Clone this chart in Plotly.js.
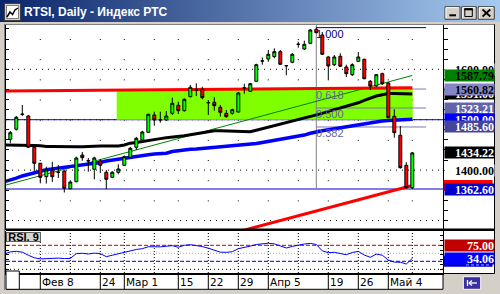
<!DOCTYPE html>
<html><head><meta charset="utf-8">
<script src="https://cdn.plot.ly/plotly-3.0.1.min.js"></script>
<style>
html,body{margin:0;padding:0;background:#d4d0c8;overflow:hidden;}
#chart{width:500px;height:294px;background:linear-gradient(to right,#0a246a,#a6caf0) 0 0/100% 22px no-repeat,#d4d0c8;}
</style></head><body><div id="chart"></div>
<script>
// ---------------- DATA ----------------
const dates = ['2010-01-29','2010-02-01','2010-02-02','2010-02-03','2010-02-04','2010-02-05','2010-02-08','2010-02-09','2010-02-10','2010-02-11','2010-02-12','2010-02-15','2010-02-16','2010-02-17','2010-02-18','2010-02-19','2010-02-24','2010-02-25','2010-02-26','2010-02-27','2010-03-01','2010-03-02','2010-03-03','2010-03-04','2010-03-05','2010-03-09','2010-03-10','2010-03-11','2010-03-12','2010-03-15','2010-03-16','2010-03-17','2010-03-18','2010-03-19','2010-03-22','2010-03-23','2010-03-24','2010-03-25','2010-03-26','2010-03-29','2010-03-30','2010-03-31','2010-04-01','2010-04-02','2010-04-05','2010-04-06','2010-04-07','2010-04-08','2010-04-09','2010-04-12','2010-04-13','2010-04-14','2010-04-15','2010-04-16','2010-04-19','2010-04-20','2010-04-21','2010-04-22','2010-04-23','2010-04-26','2010-04-27','2010-04-28','2010-04-29','2010-04-30','2010-05-04','2010-05-05','2010-05-06','2010-05-07','2010-05-11'];
const candleDates = dates.slice(1);
const openP  = [1461.2,1481.0,1510.5,1507.4,1445.3,1413.6,1387.0,1398.9,1395.5,1398.3,1363.2,1377.1,1430.0,1418.1,1401.7,1418.1,1395.7,1385.8,1395.7,1409.6,1425.5,1445.3,1459.8,1475.0,1509.4,1499.4,1499.4,1512.7,1528.6,1517.9,1545.6,1558.6,1560.3,1533.5,1534.5,1524.6,1512.7,1512.7,1515.3,1562.7,1556.4,1576.2,1616.2,1620.4,1625.0,1634.9,1607.3,1613.9,1649.3,1640.2,1651.5,1679.3,1668.0,1624.4,1609.1,1625.8,1604.5,1589.3,1615.8,1619.8,1576.2,1566.9,1591.3,1572.8,1506.8,1469.1,1409.6,1365.2];
const highP  = [1477.6,1507.4,1529.2,1509.0,1446.0,1414.5,1406.8,1416.7,1410.2,1400.0,1378.0,1426.7,1436.0,1424.0,1426.7,1422.0,1400.3,1398.0,1411.6,1429.0,1446.0,1466.0,1478.0,1512.0,1515.9,1515.9,1517.3,1543.7,1535.7,1542.0,1568.8,1572.2,1565.5,1539.1,1544.5,1529.2,1519.3,1522.0,1555.0,1571.4,1573.0,1611.0,1623.4,1638.3,1641.6,1638.3,1608.5,1632.0,1654.7,1656.7,1680.0,1682.6,1674.0,1626.0,1628.3,1631.7,1609.1,1611.9,1634.3,1621.0,1578.8,1590.7,1593.3,1574.0,1520.7,1487.5,1416.0,1436.0];
const lowP   = [1453.8,1478.6,1507.4,1444.0,1398.3,1373.9,1373.5,1376.5,1384.4,1355.7,1362.0,1376.0,1418.7,1396.9,1381.8,1394.3,1362.6,1384.0,1391.8,1408.0,1424.0,1440.0,1458.0,1474.0,1488.1,1494.1,1497.5,1509.4,1511.3,1516.0,1544.4,1547.0,1540.5,1509.4,1517.9,1506.0,1504.0,1510.0,1514.0,1551.6,1555.0,1575.0,1609.1,1615.0,1621.8,1608.5,1588.1,1612.0,1642.8,1638.3,1650.0,1671.4,1628.4,1579.4,1606.5,1604.5,1584.7,1586.7,1614.5,1580.2,1558.9,1564.9,1568.8,1503.4,1464.3,1402.9,1363.6,1362.6];
const closeP = [1474.3,1504.8,1511.0,1445.3,1413.6,1385.8,1400.3,1387.0,1396.0,1364.0,1376.5,1424.1,1424.7,1418.6,1424.1,1409.6,1381.8,1395.7,1402.3,1426.7,1443.3,1463.1,1475.6,1510.7,1499.4,1499.8,1507.4,1532.6,1517.9,1540.5,1564.3,1559.0,1543.7,1533.9,1527.8,1514.7,1506.0,1519.9,1553.0,1563.1,1571.4,1609.1,1616.6,1629.7,1634.9,1609.9,1607.0,1629.7,1649.7,1649.5,1677.9,1672.6,1629.7,1606.5,1624.4,1606.0,1591.3,1609.1,1624.4,1581.3,1566.9,1589.3,1571.4,1504.0,1474.3,1404.9,1365.2,1434.22];
const blackMA = [1450,1450,1450,1450,1449.5,1449,1448.5,1447,1447,1446.5,1446.5,1446.5,1446.5,1446.5,1446.5,1447.5,1448,1448,1448,1448,1450,1453.5,1455,1457,1459.8,1461,1462.5,1464,1465,1466,1468,1470,1471.8,1473,1475.5,1478,1478,1477.5,1477,1476.5,1476.3,1476.2,1479,1482,1485,1488,1491.5,1494.5,1497.5,1500.5,1503.5,1506.5,1509.4,1512.5,1516.5,1519.8,1523,1526.5,1530,1533.5,1538.5,1543.5,1547,1549.5,1552,1552,1551.5,1551.2,1551.0];
const blueMA  = [1377,1380,1384,1388.5,1392,1395.5,1399,1400.8,1402.5,1404,1405.6,1407,1408.5,1410,1411.5,1413,1415,1418,1420,1421.5,1423,1425,1427,1429,1430.5,1432,1433,1433.5,1437,1439,1440.5,1441.5,1442,1443,1445,1446.5,1447,1447.5,1448,1449,1450,1451,1453,1455,1457,1458.8,1460.5,1461.8,1464,1466.5,1469.5,1473,1476,1478,1480,1482,1484.5,1486.5,1488.5,1490.5,1492.5,1494.5,1496,1497.5,1498.5,1499.5,1500,1500.5,1500.8];
const rsi9    = [48,54.5,56,53.5,44,36,32.5,33,35,35,33.5,34,49,50,47.8,50.5,49,39.5,44,48.5,54.5,59.5,62,64.5,70.5,70.5,70,72,73.8,68.8,75,77,75,71,66,60,53.5,53,55,64.4,67.5,72.5,77.5,79,81.5,79.5,73,66.6,71.5,76,79,81,77.5,57.5,52,53,50,45.6,52.5,56,44.5,37.5,47.5,44,29,22.5,22,16.6,34.06];
const trendDates  = ['2010-01-29','2010-05-11'];
const greenTrend  = [1369.6, 1587.79];
const redTopLine  = [1556.8, 1563.5];
const redChannel  = [1155.0, 1369.4];
const supportLevels = [1500.00, 1362.60];
const zoneDates = ['2010-02-27','2010-05-11'];
const zoneRange = [1500, 1561];
const fibDate = '2010-04-15';
const fibLow = 1363.86;
const fibLevels = [1682.59, 1560.82, 1523.21, 1485.60];
const fibNames = ['1.000','0.618','0.500','0.382'];
const rsiLevels = [75, 25];
const priceLabelValues = [1600.00, 1587.79, 1551.00, 1560.82, 1523.21, 1500.00, 1485.60, 1434.22, 1400.00, 1362.60];
const priceHiddenMarkers = [1369.40];   // red channel value box, covered by the 1362.60 box
const rsiLabelValues = [75.00, 34.06];
const rsiHiddenMarkers = [25.00];       // lower level box, covered by the 34.06 box
const tickDates  = ['2010-02-08','2010-02-24','2010-03-01','2010-03-15','2010-03-22','2010-03-29','2010-04-05','2010-04-19','2010-04-26','2010-05-04'];
const tickLabels = ['Фев 8','24','Мар 1','15','22','29','Апр 5','19','26','Май 4'];
const gridDates  = ['2010-02-08','2010-02-15','2010-02-24','2010-03-01','2010-03-09','2010-03-15','2010-03-22','2010-03-29','2010-04-05','2010-04-12','2010-04-19','2010-04-26','2010-05-04','2010-05-11'];
const majorGridLevels = [1300, 1400, 1500, 1600];
const minorGridTop = 1660, minorGridBottom = 1300, minorGridStep = 40;
const titleText = 'RTSI, Daily - Индекс РТС';
const paneLabel = 'RSI, 9';

// ---------------- STYLES / GEOMETRY ----------------
const priceLabelStyles = [
  {bg:'#ffffff', fg:'#000000'}, {bg:'#008000', fg:'#000000'}, {bg:'#000000', fg:'#ffffff'},
  {bg:'#8585c6', fg:'#000000'}, {bg:'#6464aa', fg:'#ffffff'}, {bg:'#0000ff', fg:'#ffffff'},
  {bg:'#44449a', fg:'#ffffff'}, {bg:'#000000', fg:'#ffffff'}, {bg:'#ffffff', fg:'#000000'},
  {bg:'#0000c8', fg:'#ffffff'}];
const priceHiddenColors = ['#ff0000'];
const rsiLabelStyles = [{bg:'#c00000', fg:'#ffffff'}, {bg:'#0000ff', fg:'#ffffff'}];
const rsiHiddenColors = ['#0000c8'];

const W = 500, H = 294, ML = 6, MR = 57, PW = W - ML - MR;
const px = x => (x - ML) / PW;
const py = y => 1 - y / H;
const BAR = 6, FIRST_X = 4.3;
const xr = [(ML - FIRST_X) / BAR, (ML - FIRST_X) / BAR + PW / BAR];
const yMain = [1281.3, 1687.8];
const yRsi = [-11.56, 119.69];
const domMain = [64/294, 269/294];
const domRsi = [21/294, 63/294];
const pxPerUnit = (domMain[1]-domMain[0]) * H / (yMain[1]-yMain[0]);
const idx = d => dates.indexOf(d);

// ---------------- TRACES ----------------
const traces = [
  {type:'scatter', mode:'lines', x:trendDates, y:greenTrend, line:{color:'#008000', width:1}, hoverinfo:'skip'},
  {type:'scatter', mode:'lines', x:trendDates, y:redTopLine, line:{color:'#ff0000', width:3}, hoverinfo:'skip'},
  {type:'scatter', mode:'lines', x:trendDates, y:redChannel, line:{color:'#ff0000', width:3}, hoverinfo:'skip'},
  {type:'scatter', mode:'lines', x:dates, y:blackMA, line:{color:'#000000', width:3}, hoverinfo:'skip'},
  {type:'scatter', mode:'lines', x:dates, y:blueMA, line:{color:'#0000ff', width:3.5}, hoverinfo:'skip'},
  {type:'candlestick', x:candleDates, open:openP, high:highP, low:lowP, close:closeP, xaxis:'x', yaxis:'y3',
   increasing:{line:{color:'#000000', width:1}, fillcolor:'#00ff00'},
   decreasing:{line:{color:'#000000', width:1}, fillcolor:'#ff0000'}, whiskerwidth:0, hoverinfo:'skip'},
  {type:'scatter', mode:'lines', x:dates, y:rsi9, xaxis:'x2', yaxis:'y2', line:{color:'#0000ff', width:1}, hoverinfo:'skip'}
];

// ---------------- SHAPES ----------------
const shapes = [];
const L = (x0,y0,x1,y1,color,width,extra) => Object.assign({type:'line', xref:'paper', yref:'paper', x0:px(x0), x1:px(x1), y0:py(y0), y1:py(y1), line:{color, width}, layer:'above'}, extra||{});
const R = (x0,y0,x1,y1,fill,lc,lw,layer) => ({type:'rect', xref:'paper', yref:'paper', x0:px(x0), x1:px(x1), y0:py(y0), y1:py(y1), fillcolor:fill, line:{color:lc||'rgba(0,0,0,0)', width:lw||0}, layer:layer||'above'});

// panel fills
shapes.push(R(443, 25, 494, 273, '#ffffff', null, 0, 'below'));
shapes.push(R(6, 273, 443, 289.3, '#ffffff', null, 0, 'below'));
// main grid
majorGridLevels.forEach(v => shapes.push({type:'line', xref:'paper', x0:0, x1:1, yref:'y', y0:v, y1:v, line:{color:'#000000', width:1, dash:'1px,5px'}, layer:'below'}));
gridDates.forEach(d => shapes.push({type:'line', xref:'x', x0:idx(d), x1:idx(d), yref:'y', y0:minorGridTop, y1:minorGridBottom, line:{color:'#000000', width:1, dash:'1px,' + (minorGridStep*pxPerUnit - 1).toFixed(2) + 'px'}, layer:'below'}));
// zone
shapes.push({type:'rect', xref:'x', x0:idx(zoneDates[0]) - 0.27, x1:idx(zoneDates[1]) + 0.07, yref:'y', y0:zoneRange[0], y1:zoneRange[1], fillcolor:'#80ff00', line:{width:0}, layer:'below'});
// support lines
supportLevels.forEach(v => shapes.push({type:'line', xref:'paper', x0:0, x1:1, yref:'y', y0:v, y1:v, line:{color:'#0000cc', width:1}, layer:'below'}));
// fibonacci
const fibIdx = idx(fibDate), fibEnd = dates.length - 1 + 2.3;
shapes.push({type:'line', xref:'x', x0:fibIdx, x1:fibIdx, yref:'y', y0:fibLow, y1:yMain[1], line:{color:'#808080', width:1}, layer:'below'});
fibLevels.forEach((v,i) => shapes.push({type:'line', xref:'x', x0:fibIdx, x1:fibEnd, yref:'y', y0:v, y1:v, line:{color: i===0 ? '#000080' : '#7a7ab0', width:1}, layer:'below'}));
// RSI grid
gridDates.forEach(d => shapes.push({type:'line', xref:'x2', x0:idx(d), x1:idx(d), yref:'y2 domain', y0:0, y1:1, line:{color:'#000000', width:1, dash:'1px,2px'}, layer:'below'}));
shapes.push({type:'line', xref:'paper', x0:0, x1:1, yref:'y2', y0:50, y1:50, line:{color:'#a8a8a8', width:1, dash:'1px,2px'}, layer:'below'});
shapes.push({type:'line', xref:'paper', x0:0, x1:1, yref:'y2', y0:0, y1:0, line:{color:'#000000', width:1, dash:'1px,3px'}, layer:'below'});
shapes.push({type:'line', xref:'paper', x0:0, x1:1, yref:'y2', y0:rsiLevels[0], y1:rsiLevels[0], line:{color:'#c00000', width:1, dash:'4px,2px'}, layer:'below'});
shapes.push({type:'line', xref:'paper', x0:0, x1:1, yref:'y2', y0:rsiLevels[1], y1:rsiLevels[1], line:{color:'#0000c0', width:1, dash:'4px,2px'}, layer:'below'});
// covered value boxes (drawn under the label annotations)
priceHiddenMarkers.forEach((v,i) => shapes.push({type:'rect', xref:'paper', x0:px(443.5), x1:px(492.5), yref:'y', ysizemode:'pixel', yanchor:v, y0:-5.5, y1:5.5, fillcolor:priceHiddenColors[i], line:{width:0}, layer:'above'}));
rsiHiddenMarkers.forEach((v,i) => shapes.push({type:'rect', xref:'paper', x0:px(443.5), x1:px(492.5), yref:'y2', ysizemode:'pixel', yanchor:v, y0:-5.5, y1:5.5, fillcolor:rsiHiddenColors[i], line:{width:0}, layer:'above'}));
rsiHiddenMarkers.forEach(v => shapes.push({type:'line', xref:'paper', x0:px(466), x1:px(490), yref:'y2', ysizemode:'pixel', yanchor:v, y0:-3.5, y1:-3.5, line:{color:'#ffffff', width:1, dash:'3px,2px'}, layer:'above'}));
// date separators
tickDates.forEach(d => shapes.push({type:'line', xref:'x2', x0:idx(d), x1:idx(d), yref:'paper', y0:py(273), y1:py(289.3), line:{color:'#000000', width:1}, layer:'above'}));
// frame
shapes.push(L(4, 24.5, 495, 24.5, '#808080', 1));
shapes.push(L(4.5, 24, 4.5, 290, '#808080', 1));
shapes.push(L(494.5, 24.5, 494.5, 273.5, '#000000', 1));
shapes.push(L(443, 273.5, 494.5, 273.5, '#000000', 1));
shapes.push(L(6, 229.8, 494.5, 229.8, '#000000', 2.5));
shapes.push(L(6, 289.3, 443, 289.3, '#000000', 1));
shapes.push(L(443, 273, 443, 289.3, '#000000', 1));
shapes.push(R(6, 271, 19.3, 289.3, '#ffffff', '#000000', 1));
// bottom-right button
shapes.push(R(463.3, 276.7, 480.7, 289.3, '#3a30a0', '#ffffff', 1));
shapes.push(L(467.5, 280, 467.5, 286, '#ffffff', 1.3));
shapes.push(L(469, 283, 477, 283, '#ffffff', 1.3));
shapes.push(L(469, 283, 472, 280.5, '#ffffff', 1.3));
shapes.push(L(469, 283, 472, 285.5, '#ffffff', 1.3));
// title bar icon
shapes.push(R(4.5, 3.5, 20.5, 20.5, '#d4d0c8', '#404040', 1));
shapes.push(R(6.5, 5.5, 18.5, 18.5, '#ffffff', '#808080', 1));
shapes.push({type:'path', xref:'paper', yref:'paper', path:'M'+px(7)+','+py(17)+' L'+px(10)+','+py(12)+' L'+px(12.5)+','+py(14.5)+' L'+px(15)+','+py(10)+' L'+px(18)+','+py(8), line:{color:'#000000', width:1.5}, layer:'above'});
// window buttons
[[445,460],[461.7,476.3],[478.3,494.3]].forEach(b => {
  shapes.push(R(b[0], 6.7, b[1], 19.3, '#d4d0c8', '#404040', 1));
  shapes.push(L(b[0]+1, 7.7, b[1]-1.5, 7.7, '#ffffff', 1));
  shapes.push(L(b[0]+1, 7.7, b[0]+1, 18.3, '#ffffff', 1));
});
shapes.push(R(449.3, 14.3, 456, 16.3, '#000000'));
shapes.push(R(464.8, 8.8, 472.3, 16.5, 'rgba(0,0,0,0)', '#000000', 1));
shapes.push(R(464.3, 8.3, 472.8, 10.3, '#000000'));
shapes.push(L(482.5, 9.5, 490.3, 16.5, '#000000', 1.8));
shapes.push(L(490.3, 9.5, 482.5, 16.5, '#000000', 1.8));

// ---------------- ANNOTATIONS ----------------
const annotations = [];
annotations.push({xref:'paper', yref:'paper', x:px(21.5), y:py(11.8), xanchor:'left', yanchor:'middle', showarrow:false,
  text:'<b>' + titleText + '</b>', font:{family:'Liberation Sans, Arial, sans-serif', size:12, color:'#ffffff'}});
priceLabelValues.forEach((v,i) => annotations.push({xref:'paper', yref:'y', x:px(443.5), y:v, xanchor:'left', yanchor:'middle', showarrow:false,
  text:'<b>' + v.toFixed(2) + '</b>', align:'right', width:49, height:11, borderpad:0, bgcolor:priceLabelStyles[i].bg,
  font:{family:'Liberation Serif, Times New Roman, serif', size:12, color:priceLabelStyles[i].fg}}));
rsiLabelValues.forEach((v,i) => annotations.push({xref:'paper', yref:'y2', x:px(443.5), y:v, xanchor:'left', yanchor:'middle', showarrow:false,
  text:'<b>' + v.toFixed(2) + '</b>', align:'right', width:49, height:11, borderpad:0, bgcolor:rsiLabelStyles[i].bg,
  font:{family:'Liberation Serif, Times New Roman, serif', size:12, color:rsiLabelStyles[i].fg}}));
fibLevels.forEach((v,i) => annotations.push({xref:'x', yref:'y', x:fibIdx, y:v, xanchor:'left', yanchor:'top', xshift:-1, yshift:1, showarrow:false, borderpad:0,
  text:fibNames[i], font:{family:'Liberation Sans, Arial, sans-serif', size:11, color: i===0 ? '#000080' : '#6464a0'}}));
tickDates.forEach((d,i) => annotations.push({xref:'x2', yref:'paper', x:idx(d), y:py(282), xanchor:'left', yanchor:'middle', xshift:1, showarrow:false, borderpad:0,
  text:tickLabels[i], font:{family:'DejaVu Sans, sans-serif', size:10.5, color:'#000000'}}));
annotations.push({xref:'paper', yref:'paper', x:px(5.7), y:py(236.7), xanchor:'left', yanchor:'middle', showarrow:false,
  text:'<b>' + paneLabel + '</b>', width:33, height:8, borderpad:0, bgcolor:'#d8d6d0', bordercolor:'#606060', borderwidth:1,
  font:{family:'Liberation Sans, Arial, sans-serif', size:11, color:'#000000'}});

// ---------------- LAYOUT ----------------
const catAxis = {type:'category', categoryorder:'array', categoryarray:dates, range:xr, domain:[0,1], showticklabels:false, ticks:'', showgrid:false, zeroline:false, fixedrange:true};
const layout = {
  width:W, height:H, margin:{l:ML, r:MR, t:0, b:0, pad:0},
  paper_bgcolor:'rgba(0,0,0,0)', plot_bgcolor:'#ffffff', showlegend:false, dragmode:false,
  xaxis:Object.assign({}, catAxis, {anchor:'y', showline:false, rangeslider:{visible:false}}),
  yaxis:{domain:domMain, range:yMain, anchor:'x', tickmode:'linear', tick0:1300, dtick:20, ticks:'inside', ticklen:3, tickwidth:1, tickcolor:'#000000',
         showticklabels:false, showgrid:false, zeroline:false, showline:true, linecolor:'#000000', linewidth:1, fixedrange:true},
  yaxis3:{overlaying:'y', side:'right', anchor:'x', range:yMain, tickmode:'linear', tick0:1300, dtick:20, ticks:'outside', ticklen:4, tickwidth:1, tickcolor:'#000000',
         showticklabels:false, showgrid:false, zeroline:false, showline:true, linecolor:'#000000', linewidth:1, fixedrange:true},
  xaxis2:Object.assign({}, catAxis, {anchor:'y2', showline:true, linecolor:'#000000', linewidth:1.5}),
  yaxis2:{domain:domRsi, range:yRsi, anchor:'x2', tickmode:'linear', tick0:0, dtick:15, ticks:'inside', ticklen:3, tickwidth:1, tickcolor:'#000000', mirror:'ticks',
         showticklabels:false, showgrid:false, zeroline:false, showline:true, linecolor:'#000000', linewidth:1, fixedrange:true},
  shapes, annotations
};
Plotly.newPlot('chart', traces, layout, {staticPlot:true, displayModeBar:false});
</script></body></html>
